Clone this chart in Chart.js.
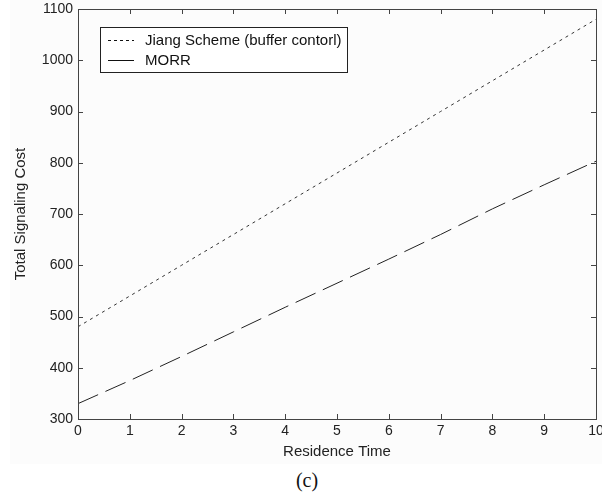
<!DOCTYPE html>
<html lang="en">
<head>
  <meta charset="UTF-8" />
  <title>Total Signaling Cost vs Residence Time</title>
  <style>
    body {
      margin: 0;
      background: #ffffff;
      width: 602px;
      height: 499px;
      overflow: hidden;
      position: relative;
    }
    .panel {
      position: absolute;
      left: 10px;
      top: 0;
      width: 592px;
      height: 464px;
      background: #fcfcfc;
    }
    .chart-wrap {
      position: absolute;
      left: 0;
      top: 0;
      width: 602px;
      height: 466px;
    }
    .caption {
      position: absolute;
      left: 0;
      width: 614px;
      top: 469px;
      text-align: center;
      font-family: 'Liberation Serif', 'Times New Roman', serif;
      font-size: 20px;
      color: #111;
    }
  </style>
</head>
<body>
  <div class="panel"></div>
  <div class="chart-wrap"><canvas id="costChart" width="602" height="466"></canvas></div>
  <div class="caption">(c)</div>

  <script src="https://cdn.jsdelivr.net/npm/chart.js"></script>
  <script>
// residence time (x) and total signaling cost of each scheme
const residenceTime = [0, 1, 2, 3, 4, 5, 6, 7, 8, 9, 10];
const jiangCost = [480, 540, 600, 660, 720, 780, 840, 900, 960, 1020, 1080];
const morrCost = [330, 375, 422, 470, 518, 565, 612, 660, 710, 757, 803];
const xTicks = [0, 1, 2, 3, 4, 5, 6, 7, 8, 9, 10];
const yTicks = [300, 400, 500, 600, 700, 800, 900, 1000, 1100];

const axisColor = "#444";
const tickFont = { family: "'Liberation Sans', Arial, sans-serif", size: 14 };
const titleFont = { family: "'Liberation Sans', Arial, sans-serif", size: 15 };

const toPoints = ys => residenceTime.map((x, i) => ({ x: x, y: ys[i] }));

// box around the plot, inward ticks on all four sides, legend in upper left
const matlabFrame = {
  id: "matlabFrame",
  afterDatasetsDraw(chart) {
    const { ctx, chartArea: a, scales: { x, y } } = chart;
    const len = 5;
    ctx.save();
    ctx.strokeStyle = axisColor;
    ctx.lineWidth = 1;
    ctx.setLineDash([]);
    ctx.strokeRect(a.left + 0.5, a.top + 0.5, a.right - a.left, a.bottom - a.top);
    ctx.beginPath();
    xTicks.forEach(v => {
      const px = Math.round(x.getPixelForValue(v)) + 0.5;
      ctx.moveTo(px, a.bottom); ctx.lineTo(px, a.bottom - len);
      ctx.moveTo(px, a.top); ctx.lineTo(px, a.top + len);
    });
    yTicks.forEach(v => {
      const py = Math.round(y.getPixelForValue(v)) + 0.5;
      ctx.moveTo(a.left, py); ctx.lineTo(a.left + len, py);
      ctx.moveTo(a.right, py); ctx.lineTo(a.right - len, py);
    });
    ctx.stroke();

    // legend
    const bx = 100.5, by = 27.5, bw = 247, bh = 45;
    ctx.fillStyle = "#ffffff";
    ctx.fillRect(bx, by, bw, bh);
    ctx.strokeStyle = "#222";
    ctx.strokeRect(bx, by, bw, bh);
    ctx.font = "15px 'Liberation Sans', Arial, sans-serif";
    ctx.textBaseline = "middle";
    ctx.fillStyle = "#111";
    chart.data.datasets.forEach((ds, i) => {
      const rowY = 40.5 + i * 20;
      ctx.beginPath();
      ctx.strokeStyle = "#111";
      ctx.setLineDash(i === 0 ? [3, 3] : []);
      ctx.moveTo(108, rowY); ctx.lineTo(134, rowY);
      ctx.stroke();
      ctx.fillText(ds.label, 145, rowY);
    });
    ctx.restore();
  }
};

new Chart(document.getElementById("costChart"), {
  type: "line",
  data: {
    datasets: [
      {
        label: "Jiang Scheme (buffer contorl)",
        data: toPoints(jiangCost),
        borderColor: "#333",
        borderWidth: 1,
        borderDash: [3, 4],
        pointRadius: 0,
        tension: 0
      },
      {
        label: "MORR",
        data: toPoints(morrCost),
        borderColor: "#222",
        borderWidth: 1,
        borderDash: [22, 8],
        pointRadius: 0,
        tension: 0
      }
    ]
  },
  options: {
    responsive: false,
    animation: false,
    events: [],
    layout: { padding: { top: 9, right: 6, left: 0, bottom: 0 } },
    plugins: {
      legend: { display: false },
      tooltip: { enabled: false }
    },
    scales: {
      x: {
        type: "linear",
        min: 0,
        max: 10,
        grid: { display: false, drawTicks: false },
        border: { display: false },
        afterBuildTicks: s => { s.ticks = xTicks.map(v => ({ value: v })); },
        ticks: { color: "#222", font: tickFont, padding: 4, maxRotation: 0, callback: v => String(v) },
        title: {
          display: true,
          text: "Residence Time",
          color: "#222",
          font: titleFont,
          padding: { top: 0, bottom: 5 }
        },
        afterFit: s => { s.height = 47; s.paddingLeft = 0; s.paddingRight = 0; }
      },
      y: {
        min: 300,
        max: 1100,
        grid: { display: false, drawTicks: false },
        border: { display: false },
        afterBuildTicks: s => { s.ticks = yTicks.map(v => ({ value: v })); },
        ticks: { color: "#222", font: tickFont, padding: 5, callback: v => String(v) },
        title: {
          display: true,
          text: "Total Signaling Cost",
          color: "#222",
          font: titleFont,
          padding: { top: 12, bottom: 0 }
        },
        afterFit: s => { s.width = 78; s.paddingTop = 0; s.paddingBottom = 0; }
      }
    }
  },
  plugins: [matlabFrame]
});
  </script>
</body>
</html>
